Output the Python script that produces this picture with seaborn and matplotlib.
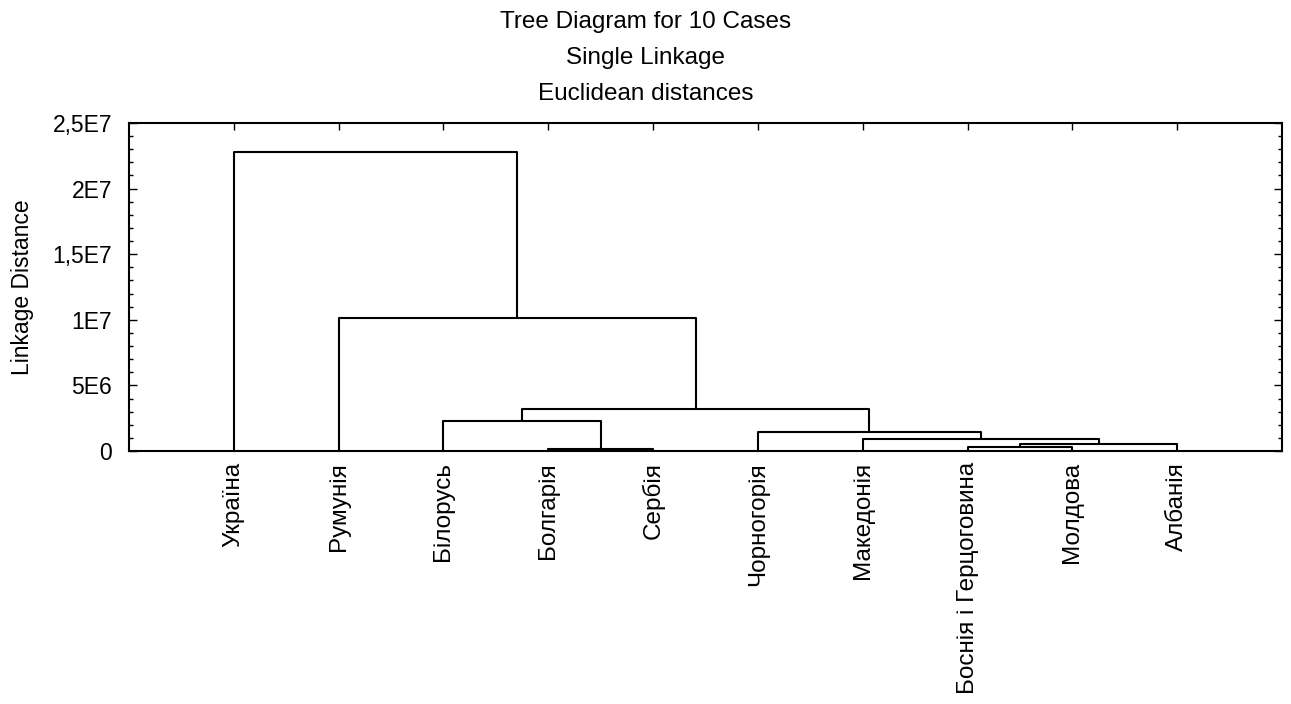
import pandas as pd
import numpy as np
import matplotlib
matplotlib.use("Agg")
import matplotlib.pyplot as plt
from matplotlib.ticker import MultipleLocator, FixedLocator
import seaborn as sns

# leaf order as shown on the x axis
leaves = ["Україна", "Румунія", "Білорусь", "Болгарія", "Сербія",
          "Чорногорія", "Македонія", "Боснія і Герцоговина", "Молдова", "Албанія"]

# merges: (left cluster, right cluster, linkage distance)
merge_left = ["Болгарія", "Боснія і Герцоговина", "c2", "Македонія", "Чорногорія",
              "Білорусь", "c6", "Румунія", "Україна"]
merge_right = ["Сербія", "Молдова", "Албанія", "c3", "c4",
               "c1", "c5", "c7", "c8"]
merge_height = [1.5e5, 2.8e5, 5.1e5, 9.1e5, 1.42e6,
                2.31e6, 3.2e6, 1.014e7, 2.279e7]

y_ticks = [0, 5e6, 1e7, 1.5e7, 2e7, 2.5e7]
y_tick_labels = ["0", "5E6", "1E7", "1,5E7", "2E7", "2,5E7"]

# cluster positions / heights
pos = {name: i + 1 for i, name in enumerate(leaves)}
hgt = {name: 0.0 for name in leaves}
rows = []
for k, (a, b, h) in enumerate(zip(merge_left, merge_right, merge_height)):
    seg = f"c{k + 1}"
    for x, y in [(pos[a], hgt[a]), (pos[a], h), (pos[b], h), (pos[b], hgt[b])]:
        rows.append({"seg": seg, "x": x, "y": y})
    pos[seg] = (pos[a] + pos[b]) / 2
    hgt[seg] = h
seg_df = pd.DataFrame(rows)

sns.set_style("ticks")
plt.rcParams["font.family"] = ["Liberation Sans", "DejaVu Sans"]
plt.rcParams["text.color"] = "black"
plt.rcParams["axes.labelcolor"] = "black"
plt.rcParams["xtick.color"] = "black"
plt.rcParams["ytick.color"] = "black"

fig = plt.figure(figsize=(12.91, 7.04), dpi=100)
ax = fig.add_axes([129 / 1291, 1 - 451 / 704, (1282 - 129) / 1291, (451 - 123) / 704])

sns.lineplot(data=seg_df, x="x", y="y", units="seg", estimator=None, sort=False,
             color="black", linewidth=1.5, ax=ax)

ax.set_xlim(0, 11)
ax.set_ylim(0, 2.5e7)
ax.set_xlabel("")
ax.set_ylabel("Linkage Distance", fontsize=16.5)
ax.yaxis.set_label_coords(-95 / 1153, 0.5)

ax.yaxis.set_major_locator(FixedLocator(y_ticks))
ax.set_yticklabels(y_tick_labels)
ax.yaxis.set_minor_locator(MultipleLocator(1e6))
ax.set_xticks(range(1, len(leaves) + 1))
ax.set_xticklabels(leaves, rotation=90, va="top", ha="center")

ax.tick_params(axis="y", which="major", direction="in", length=6, width=1,
               left=True, right=True, labelsize=16.5, pad=12)
ax.tick_params(axis="y", which="minor", direction="in", length=3, width=1,
               left=True, right=True)
ax.tick_params(axis="x", which="major", direction="in", length=5, width=1,
               top=True, bottom=False, labelsize=17.5, pad=8)
for sp in ax.spines.values():
    sp.set_visible(True)
    sp.set_linewidth(1.5)
    sp.set_color("black")

titles = ["Tree Diagram for 10 Cases", "Single Linkage", "Euclidean distances"]
for i, t in enumerate(titles):
    fig.text(0.5, 1 - (22 + 36 * i) / 704, t, ha="center", va="center", fontsize=17.5)

fig.savefig("out.png", dpi=100)
